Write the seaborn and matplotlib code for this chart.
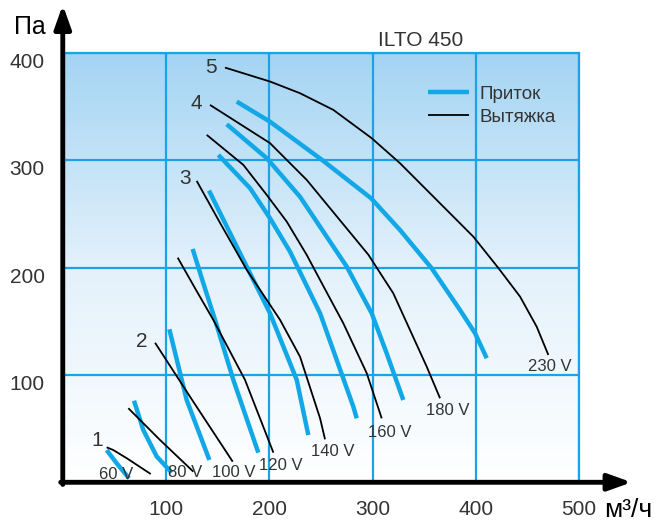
import numpy as np
import pandas as pd
import matplotlib
matplotlib.use("Agg")
import matplotlib.pyplot as plt
import seaborn as sns

# fan curves ILTO 450 (x in m3/h, y in Pa)
voltages = ["60 V", "80 V", "100 V", "120 V", "140 V", "160 V", "180 V", "230 V"]

sup60_x = [42.5, 52.2, 64.2]
sup60_y = [30.0, 17.7, 3.7]
exh60_x = [42.5, 49.0, 62.0, 85.2]
exh60_y = [32.6, 30.0, 22.4, 7.7]

sup80_x = [69.0, 78.0, 91.0, 105.5]
sup80_y = [76.0, 48.7, 24.0, 9.0]
exh80_x = [63.5, 94.2, 126.5]
exh80_y = [69.0, 39.4, 9.9]

sup100_x = [103.2, 120.0, 142.0]
sup100_y = [142.6, 76.7, 20.8]
exh100_x = [89.4, 123.2, 164.6]
exh100_y = [130.0, 79.8, 19.2]

sup120_x = [125.8, 136.1, 147.5, 165.2, 189.4]
sup120_y = [217.4, 185.5, 151.3, 95.4, 27.6]
exh120_x = [111.3, 128.1, 145.8, 176.5, 204.0]
exh120_y = [209.3, 180.8, 151.3, 95.4, 27.6]

sup140_x = [141.6, 171.7, 200.7, 226.6, 237.8]
sup140_y = [271.8, 213.4, 157.5, 95.4, 44.0]
exh140_x = [129.7, 152.5, 178.2, 210.4, 229.8, 249.2, 254.0]
exh140_y = [280.8, 241.4, 197.9, 151.4, 117.0, 59.6, 40.0]

sup160_x = [150.7, 181.4, 200.7, 220.1, 249.2, 265.3, 281.4, 284.7]
sup160_y = [305.0, 274.0, 246.0, 214.9, 157.5, 114.0, 70.5, 59.6]
exh160_x = [139.4, 174.9, 197.5, 216.9, 236.3, 249.2, 271.7, 294.4, 308.9]
exh160_y = [323.7, 295.7, 267.8, 242.9, 211.8, 188.5, 148.2, 101.6, 59.6]

sup180_x = [158.8, 197.5, 229.8, 265.3, 275.0, 299.2, 313.7, 329.8]
sup180_y = [333.6, 302.0, 266.0, 214.9, 201.0, 157.5, 120.2, 76.7]
exh180_x = [142.6, 200.7, 236.3, 296.0, 320.1, 336.3, 352.5, 365.4]
exh180_y = [351.6, 316.0, 281.7, 212.0, 176.1, 141.9, 107.7, 78.3]

sup230_x = [168.5, 200.7, 252.4, 298.5, 326.6, 357.3, 384.7, 399.3, 410.6]
sup230_y = [354.7, 336.0, 299.4, 264.7, 235.1, 199.4, 160.6, 138.9, 115.6]
exh230_x = [157.1, 200.7, 229.8, 262.0, 299.2, 326.6, 342.8, 397.6, 422.0, 442.9, 459.0, 470.3]
exh230_y = [386.4, 373.4, 362.5, 347.0, 320.6, 297.3, 281.7, 228.9, 199.5, 173.0, 145.0, 118.6]

# label positions
volt_label_x = [51.3, 118.4, 165.9, 211.4, 261.7, 317.0, 373.0, 471.9]
volt_label_y = [7.7, 8.7, 8.7, 16.1, 28.7, 46.0, 66.9, 107.9]
num_labels = ["1", "2", "3", "4", "5"]
num_label_x = [33.2, 76.5, 118.4, 129.7, 143.6]
num_label_y = [38.5, 131.0, 283.3, 353.2, 386.8]

x_ticks = [100, 200, 300, 400, 500]
y_ticks = [100, 200, 300, 400]

supply = [(sup60_x, sup60_y), (sup80_x, sup80_y), (sup100_x, sup100_y), (sup120_x, sup120_y),
          (sup140_x, sup140_y), (sup160_x, sup160_y), (sup180_x, sup180_y), (sup230_x, sup230_y)]
exhaust = [(exh60_x, exh60_y), (exh80_x, exh80_y), (exh100_x, exh100_y), (exh120_x, exh120_y),
           (exh140_x, exh140_y), (exh160_x, exh160_y), (exh180_x, exh180_y), (exh230_x, exh230_y)]

rows = []
for kind, curves in [("Приток", supply), ("Вытяжка", exhaust)]:
    for v, (xs, ys) in zip(voltages, curves):
        for x, y in zip(xs, ys):
            rows.append({"type": kind, "volt": v, "flow": x, "pa": y})
df = pd.DataFrame(rows)

sns.set_style("white")
plt.rcParams["font.family"] = ["Liberation Sans", "DejaVu Sans"]

CYAN = "#12a7e6"
GRID = "#1aa3e6"
TXT = "#333333"

fig = plt.figure(figsize=(6.65, 5.24), dpi=100)
ax = fig.add_axes([0.0944, 0.0796, 0.7763, 0.8193])

# background gradient
grad = np.linspace(0, 1, 256).reshape(-1, 1)
cmap = matplotlib.colors.LinearSegmentedColormap.from_list("bg", ["#ffffff", "#e3f1fb", "#a3d4f3"])
ax.imshow(grad, extent=[0, 500, 0, 400], origin="lower", aspect="auto", cmap=cmap, zorder=0)

sns.lineplot(data=df, x="flow", y="pa", hue="type", size="type", units="volt",
             estimator=None, sort=False, hue_order=["Приток", "Вытяжка"],
             palette={"Приток": CYAN, "Вытяжка": "black"},
             sizes={"Приток": 3.2, "Вытяжка": 1.3}, ax=ax, zorder=3)
for line in ax.lines:
    line.set_solid_capstyle("butt")
    line.set_solid_joinstyle("round")

ax.set_xlim(0, 500)
ax.set_ylim(0, 400)
ax.set_xticks(x_ticks)
ax.set_yticks(y_ticks)
ax.grid(True, color=GRID, lw=1.6, zorder=1)
for line in ax.get_xgridlines() + ax.get_ygridlines():
    line.set_zorder(1)
ax.tick_params(length=0, labelsize=15, labelcolor=TXT)
ax.tick_params(axis="x", pad=13)
ax.tick_params(axis="y", pad=13)
for lab in ax.get_yticklabels():
    lab.set_va("top")
ax.set_xlabel("")
ax.set_ylabel("")

for side in ["top", "right"]:
    ax.spines[side].set_color(GRID)
    ax.spines[side].set_linewidth(1.6)
for side in ["left", "bottom"]:
    ax.spines[side].set_visible(False)

# axis arrows
arrow = dict(arrowstyle="-|>,head_length=1.4,head_width=0.5", lw=3.5, color="black",
             shrinkA=0, shrinkB=0)
ax.annotate("", xy=(1.102, 0), xytext=(-0.004, 0), xycoords="axes fraction",
            arrowprops=arrow, annotation_clip=False)
ax.annotate("", xy=(0, 1.112), xytext=(0, -0.005), xycoords="axes fraction",
            arrowprops=arrow, annotation_clip=False)

for t, x, y in zip(voltages, volt_label_x, volt_label_y):
    ax.text(x, y, t, fontsize=12, color=TXT, ha="center", va="center", zorder=4)
for t, x, y in zip(num_labels, num_label_x, num_label_y):
    ax.text(x, y, t, fontsize=15, color=TXT, ha="center", va="center", zorder=4)

ax.text(346.5, 412, "ILTO 450", fontsize=15, color=TXT, ha="center", va="center", clip_on=False)
ax.text(-31.7, 424, "Па", fontsize=18, color="black", ha="center", va="center", clip_on=False)
ax.text(548, -26, "м³/ч", fontsize=19, color="black", ha="center", va="center", clip_on=False)

handles, labels = ax.get_legend_handles_labels()
ax.legend(handles, labels, loc="upper left", bbox_to_anchor=(0.643, 0.836),
          bbox_transform=fig.transFigure, frameon=False, fontsize=13.5,
          handlelength=2.2, handletextpad=0.55, labelspacing=0.3, borderpad=0,
          borderaxespad=0, labelcolor=TXT)

fig.savefig("out.png", dpi=100)
plt.close(fig)
